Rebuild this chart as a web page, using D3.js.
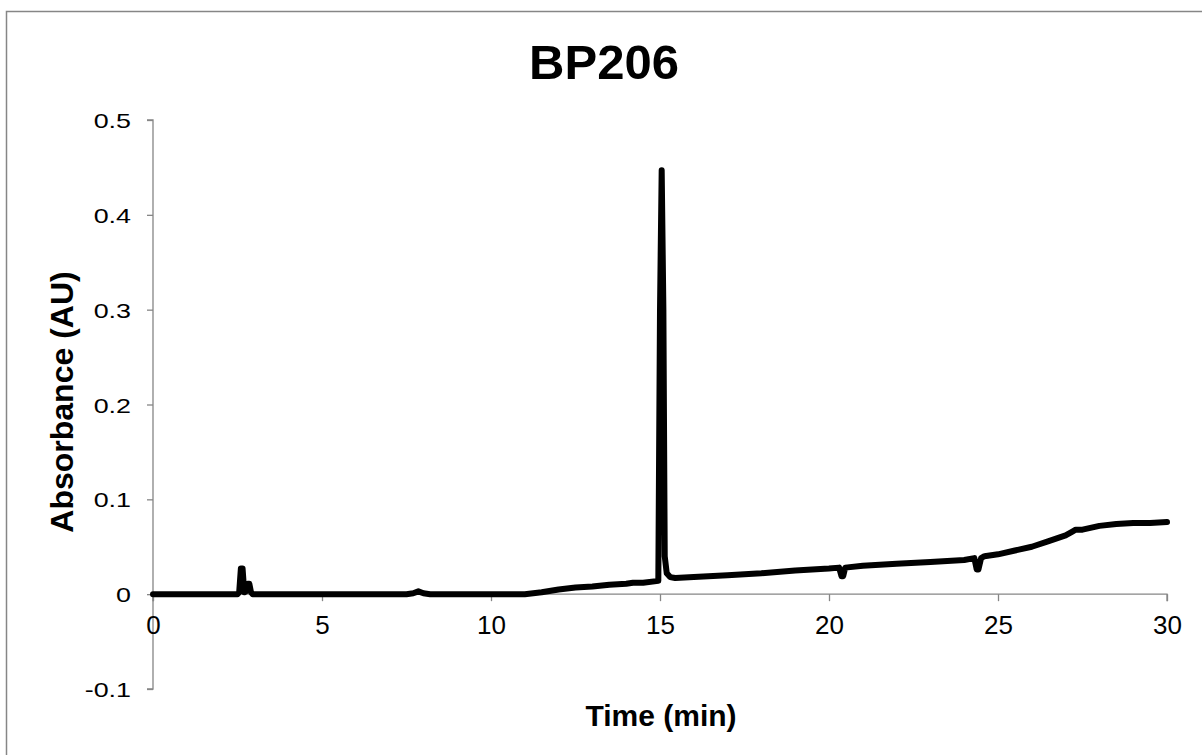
<!DOCTYPE html>
<html><head><meta charset="utf-8">
<script src="https://cdnjs.cloudflare.com/ajax/libs/d3/7.8.5/d3.min.js"></script>
<style>html,body{margin:0;padding:0;background:#fff;}svg{display:block;font-family:"Liberation Sans",Arial,sans-serif;}</style>
</head><body>
<script>
const title = "BP206";
const xLabel = "Time (min)";
const yLabel = "Absorbance (AU)";
const xTicks = [0, 5, 10, 15, 20, 25, 30];
const yTicks = [-0.1, 0, 0.1, 0.2, 0.3, 0.4, 0.5];
const yTickLabels = ["-0.1", "0", "0.1", "0.2", "0.3", "0.4", "0.5"];
const timeMin = [0, 1.0, 2.5, 2.55, 2.6, 2.65, 2.7, 2.75, 2.8, 2.85, 2.9, 2.95, 3.0, 7.5, 7.7, 7.85, 8.0, 8.2, 11.0,
  11.5, 12.0, 12.5, 13.0, 13.5, 14.0, 14.2, 14.5, 14.95, 15.0, 15.05, 15.1, 15.14, 15.2, 15.3, 15.45, 16.0, 17.0, 18.0, 19.0,
  20.0, 20.3, 20.37, 20.42, 20.48, 21.0, 22.0, 23.0, 24.0, 24.3, 24.37, 24.42, 24.5, 24.6, 25.0, 25.5, 26.0, 26.5, 27.0,
  27.2, 27.3, 27.5, 28.0, 28.5, 29.0, 29.5, 30.0];
const absorbance = [0, 0, 0, 0.002, 0.027, 0.027, 0.002, 0.003, 0.011, 0.011, 0.002, 0, 0, 0, 0.001, 0.003, 0.001, 0, 0,
  0.002, 0.005, 0.007, 0.008, 0.01, 0.011, 0.012, 0.012, 0.014, 0.3, 0.447, 0.3, 0.04, 0.022, 0.018, 0.017, 0.018, 0.02, 0.022, 0.025,
  0.027, 0.028, 0.019, 0.019, 0.028, 0.03, 0.032, 0.034, 0.036, 0.038, 0.026, 0.026, 0.038, 0.04, 0.042, 0.046, 0.05, 0.056, 0.062,
  0.066, 0.068, 0.068, 0.072, 0.074, 0.075, 0.075, 0.076];

const W = 1202, H = 755;
const svg = d3.select("body").append("svg").attr("width", W).attr("height", H);
svg.append("rect").attr("x", 6.5).attr("y", 11.5).attr("width", W).attr("height", H)
  .attr("fill", "#fff").attr("stroke", "#868686").attr("stroke-width", 1.5);

const x = d3.scaleLinear().domain([0, 30]).range([153, 1167]);
const y = d3.scaleLinear().domain([-0.1, 0.5]).range([689, 120]);

const axisColor = "#868686";
// Y axis
const yAxis = svg.append("g").attr("transform", `translate(${x(0)},0)`)
  .call(d3.axisLeft(y).tickValues(yTicks).tickFormat((d, i) => yTickLabels[i]).tickSize(6).tickPadding(7));
yAxis.select(".domain").attr("stroke", axisColor).attr("stroke-width", 1.3).attr("d", `M-6,${y(0.5)}H0V${y(-0.1)}H-6`);
yAxis.selectAll(".tick line").attr("stroke", axisColor).attr("stroke-width", 1.3);
yAxis.selectAll(".tick text").attr("font-size", 21).attr("fill", "#000")
  .attr("font-family", "Liberation Sans, Arial, sans-serif")
  .attr("x", -22 / 1.28).attr("dy", "0.36em").attr("transform", "scale(1.28,1)");

// X axis at y=0
const xAxis = svg.append("g").attr("transform", `translate(0,${y(0)})`)
  .call(d3.axisBottom(x).tickValues(xTicks).tickFormat(d3.format("d")).tickSize(7).tickPadding(10));
xAxis.select(".domain").attr("stroke", axisColor).attr("stroke-width", 1.3).attr("d", `M${x(0)},7V0H${x(30)}V7`);
xAxis.selectAll(".tick line").attr("stroke", axisColor).attr("stroke-width", 1.3);
xAxis.selectAll(".tick text").attr("font-size", 26).attr("fill", "#000")
  .attr("font-family", "Liberation Sans, Arial, sans-serif")
  .attr("dy", null).attr("y", 40);

// Line
const data = timeMin.map((t, i) => [t, absorbance[i]]);
svg.append("path").datum(data)
  .attr("fill", "none").attr("stroke", "#000").attr("stroke-width", 6)
  .attr("stroke-linejoin", "round").attr("stroke-linecap", "round")
  .attr("d", d3.line().x(d => x(d[0])).y(d => y(d[1])));

// Titles
svg.append("text").attr("x", 604).attr("y", 79).attr("text-anchor", "middle")
  .attr("font-size", 49).attr("font-weight", "bold").text(title);
svg.append("text").attr("x", 661).attr("y", 726).attr("text-anchor", "middle")
  .attr("font-size", 30).attr("font-weight", "bold").text(xLabel);
svg.append("text").attr("transform", `translate(73,402) rotate(-90)`).attr("text-anchor", "middle")
  .attr("font-size", 32).attr("font-weight", "bold").text(yLabel);
</script>
</body></html>
